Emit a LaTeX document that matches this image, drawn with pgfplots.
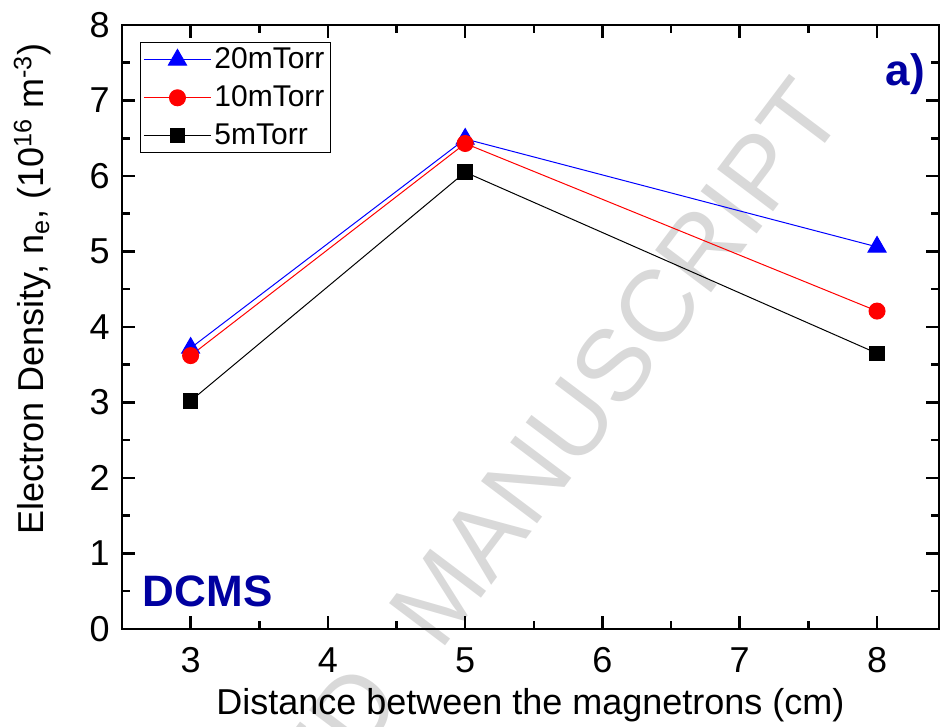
\documentclass[border=0pt]{standalone}
\usepackage{fontspec}
\setmainfont{Liberation Sans}
\usepackage{pgfplots}
\pgfplotsset{compat=1.18}
\definecolor{labblue}{RGB}{0,0,160}
\definecolor{wmgray}{RGB}{217,217,217}
\begin{document}
\begin{tikzpicture}
\begin{axis}[
  name=ax,
  set layers,
  scale only axis,
  width=408.5pt, height=302pt,
  xmin=2.5, xmax=8.45, ymin=0, ymax=8,
  xtick={3,4,5,6,7,8}, ytick={0,1,2,3,4,5,6,7,8},
  minor x tick num=1, minor y tick num=1,
  tick align=inside,
  major tick length=6.5pt, minor tick length=3.8pt,
  axis line style={line width=1.3pt},
  every tick/.style={line width=1.3pt, black},
  clip=false,
  /pgf/number format/assume math mode=true,
  tick label style={font=\fontsize{18}{21}\selectfont, inner sep=0pt},
  x tick label style={anchor=north, yshift=-9pt},
  y tick label style={anchor=east, xshift=-6pt},
  xlabel={Distance between the magnetrons (cm)},
  ylabel={Electron Density, n\textsubscript{e}, (10\textsuperscript{16} m\textsuperscript{-3})},
  label style={font=\fontsize{18}{21}\selectfont, inner sep=0pt},
  x label style={at={(axis description cs:0.5,0)}, anchor=base, yshift=-43pt},
  y label style={at={(axis description cs:-0.0955,0.563)}, anchor=base},
  legend cell align=left,
  legend style={at={(0,1)}, anchor=north west, xshift=9pt, yshift=-8.5pt,
    font=\fontsize{15}{18}\selectfont, draw=black, line width=0.5pt,
    inner xsep=1.5pt, inner ysep=1.2pt, row sep=4pt,
    nodes={inner sep=1.5pt},
    /tikz/every even column/.append style={column sep=5pt}},
  legend image code/.code={\draw[mark repeat=2,mark phase=2,#1] plot coordinates {(0pt,0pt) (16.75pt,0pt) (33.5pt,0pt)};},
]
\begin{pgfonlayer}{axis background}
\node[overlay, rotate=53, anchor=base east, inner sep=0pt, text=wmgray,
  font=\fontsize{51}{60}\selectfont] at (axis cs:7.78,6.82) {ACCEPTED\kern 30pt MANUSCRIPT};
\end{pgfonlayer}
\addplot[blue, line width=0.5pt, mark=triangle*, mark size=5.2pt, mark options={solid, fill=blue}]
  coordinates {(3,3.72) (5,6.49) (8,5.06)};
\addlegendentry{20mTorr}
\addplot[red, line width=0.5pt, mark=*, mark size=4pt, mark options={solid, fill=red}]
  coordinates {(3,3.62) (5,6.43) (8,4.21)};
\addlegendentry{10mTorr}
\addplot[black, line width=0.5pt, mark=square*, mark size=3.6pt, mark options={solid, fill=black}]
  coordinates {(3,3.02) (5,6.05) (8,3.65)};
\addlegendentry{5mTorr}
\node[anchor=base west, inner sep=0pt, text=labblue, font=\fontsize{22}{26}\selectfont\bfseries] at (axis cs:2.65,0.29) {DCMS};
\node[anchor=base east, inner sep=0pt, text=labblue, font=\fontsize{22}{26}\selectfont\bfseries] at (axis cs:8.35,7.2) {a)};
\end{axis}
\pgfresetboundingbox
\path[use as bounding box] ([shift={(-61pt,-49pt)}]ax.south west) rectangle ([shift={(0.6pt,12.5pt)}]ax.north east);
\end{tikzpicture}
\end{document}
